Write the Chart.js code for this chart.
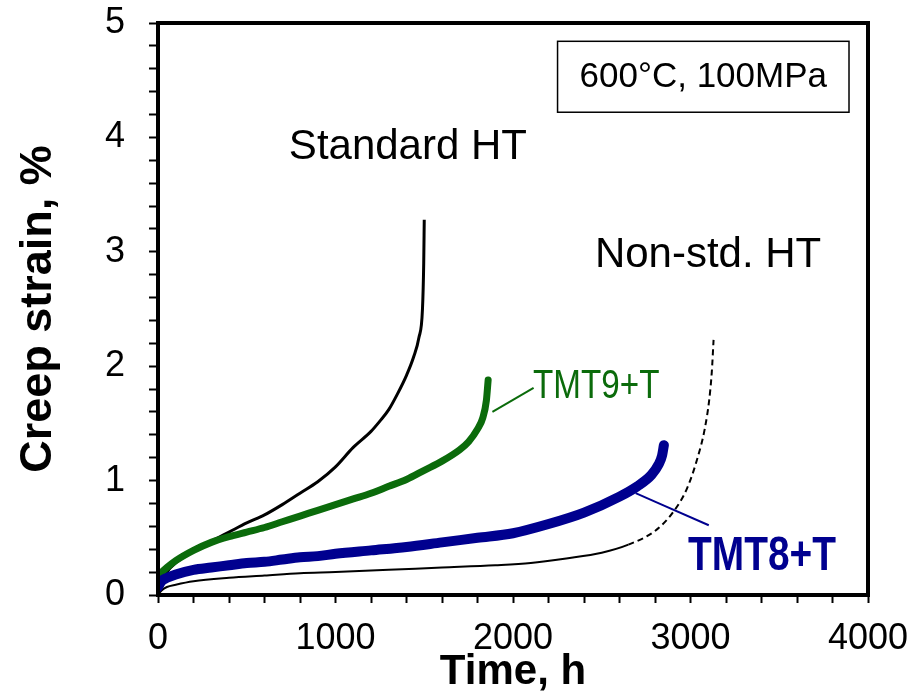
<!DOCTYPE html>
<html>
<head>
<meta charset="utf-8">
<script src="https://cdn.jsdelivr.net/npm/chart.js@4/dist/chart.umd.min.js"></script>
<style>
    body { margin: 0; background: #fff; }
    #wrap { width: 913px; height: 698px; }
</style>
</head>
<body>
<div id="wrap"><canvas id="creep" width="913" height="698"></canvas></div>
<script>
// creep curves, time in h, strain in %
const stdTime   = [0, 20, 50, 100, 200, 300, 400, 500, 600, 700, 800, 900, 1000, 1100, 1200, 1250, 1300, 1350, 1400, 1440, 1470, 1490, 1497, 1500];
const stdStrain = [0, 0.12, 0.2, 0.28, 0.38, 0.47, 0.55, 0.63, 0.7, 0.79, 0.89, 0.99, 1.12, 1.29, 1.43, 1.52, 1.62, 1.76, 1.92, 2.08, 2.25, 2.5, 2.9, 3.28];

const nonStdTime   = [0, 20, 50, 100, 200, 400, 600, 800, 1000, 1300, 1600, 1900, 2100, 2300, 2500, 2650, 2800, 2900, 2980, 3040, 3080, 3105, 3120, 3130];
const nonStdStrain = [0, 0.04, 0.07, 0.09, 0.12, 0.15, 0.17, 0.19, 0.2, 0.22, 0.24, 0.26, 0.28, 0.32, 0.37, 0.44, 0.56, 0.72, 0.93, 1.2, 1.45, 1.7, 1.95, 2.23];
const nonStdDashFrom = 2650;

const tmt9Time   = [0, 50, 100, 200, 300, 400, 500, 600, 700, 800, 900, 1000, 1100, 1200, 1300, 1400, 1500, 1600, 1700, 1750, 1800, 1830, 1850, 1860];
const tmt9Strain = [0.17, 0.24, 0.3, 0.39, 0.46, 0.51, 0.55, 0.59, 0.64, 0.69, 0.74, 0.79, 0.84, 0.89, 0.95, 1.01, 1.09, 1.17, 1.27, 1.34, 1.45, 1.55, 1.7, 1.88];

const tmt8Time   = [0, 20, 50, 100, 200, 300, 400, 500, 600, 700, 800, 900, 1000, 1200, 1400, 1600, 1800, 2000, 2200, 2400, 2600, 2700, 2780, 2820, 2840, 2850];
const tmt8Strain = [0.07, 0.12, 0.15, 0.18, 0.22, 0.24, 0.26, 0.28, 0.29, 0.31, 0.33, 0.34, 0.36, 0.39, 0.42, 0.46, 0.5, 0.54, 0.62, 0.72, 0.86, 0.95, 1.05, 1.14, 1.22, 1.31];

// leader lines from labels to curves
const tmt9Leader = [[1884, 1.60], [2116, 1.81]];
const tmt8Leader = [[2691, 0.89], [3103, 0.61]];

const xTicks = [0, 1000, 2000, 3000, 4000];
const yTicks = [0, 1, 2, 3, 4, 5];

function pts(xs, ys) {
    return xs.map((x, i) => ({x: x, y: ys[i]}));
}

// text labels placed in data units, squeeze < 1 fakes a narrow face
const notes = [
    {text: "Standard HT", x: 1408, y: 3.91, font: "42px 'Liberation Sans'", color: "#000", align: "center", squeeze: 1},
    {text: "Non-std. HT", x: 3099, y: 2.97, font: "42px 'Liberation Sans'", color: "#000", align: "center", squeeze: 1},
    {text: "TMT9+T", x: 2113, y: 1.82, font: "41px 'Liberation Sans'", color: "#0b6b0b", align: "left", squeeze: 0.81},
    {text: "TMT8+T", x: 2986, y: 0.33, font: "bold 48px 'Liberation Sans'", color: "#00008f", align: "left", squeeze: 0.81}
];
const condBox = {text: "600°C, 100MPa", x0: 2251, x1: 3893, y0: 4.22, y1: 4.84};

const framePlugin = {
    id: "frame",
    afterDraw(chart) {
        const ctx = chart.ctx;
        const a = chart.chartArea;
        const xs = chart.scales.x, ys = chart.scales.y;
        ctx.save();
        ctx.strokeStyle = "#000";
        ctx.lineWidth = 4;
        ctx.strokeRect(a.left, a.top, a.right - a.left, a.bottom - a.top);

        ctx.textBaseline = "middle";
        notes.forEach(n => {
            ctx.save();
            ctx.font = n.font;
            ctx.fillStyle = n.color;
            ctx.textAlign = n.align;
            ctx.translate(xs.getPixelForValue(n.x), ys.getPixelForValue(n.y));
            ctx.scale(n.squeeze, 1);
            ctx.fillText(n.text, 0, 0);
            ctx.restore();
        });

        const bx0 = xs.getPixelForValue(condBox.x0), bx1 = xs.getPixelForValue(condBox.x1);
        const by0 = ys.getPixelForValue(condBox.y1), by1 = ys.getPixelForValue(condBox.y0);
        ctx.lineWidth = 1.5;
        ctx.strokeRect(bx0, by0, bx1 - bx0, by1 - by0);
        ctx.font = "35px 'Liberation Sans'";
        ctx.fillStyle = "#000";
        ctx.textAlign = "center";
        ctx.fillText(condBox.text, (bx0 + bx1) / 2, (by0 + by1) / 2 + 1);
        ctx.restore();
    }
};

new Chart(document.getElementById("creep"), {
    type: "line",
    data: {
        datasets: [
            {
                label: "TMT8+T",
                data: pts(tmt8Time, tmt8Strain),
                borderColor: "#00008f",
                borderWidth: 10,
                borderCapStyle: "round",
                order: 1
            },
            {
                label: "TMT9+T",
                data: pts(tmt9Time, tmt9Strain),
                borderColor: "#0b6b0b",
                borderWidth: 7,
                borderCapStyle: "round",
                order: 2
            },
            {
                label: "Standard HT",
                data: pts(stdTime, stdStrain),
                borderColor: "#000",
                borderWidth: 3,
                order: 3
            },
            {
                label: "Non-std. HT",
                data: pts(nonStdTime, nonStdStrain),
                borderColor: "#000",
                borderWidth: 2,
                order: 4,
                segment: {
                    borderDash: c => c.p0.parsed.x >= nonStdDashFrom ? [6, 4] : undefined
                }
            },
            {
                label: "lead9",
                data: tmt9Leader.map(p => ({x: p[0], y: p[1]})),
                borderColor: "#0b6b0b",
                borderWidth: 2,
                tension: 0,
                order: 0
            },
            {
                label: "lead8",
                data: tmt8Leader.map(p => ({x: p[0], y: p[1]})),
                borderColor: "#00008f",
                borderWidth: 2,
                tension: 0,
                order: 0
            }
        ]
    },
    options: {
        responsive: false,
        animation: false,
        devicePixelRatio: 1,
        elements: {
            point: { radius: 0 },
            line: { cubicInterpolationMode: "monotone", fill: false }
        },
        layout: {
            padding: { left: 0, right: 45, top: 23, bottom: 0 }
        },
        plugins: {
            legend: { display: false },
            tooltip: { enabled: false }
        },
        scales: {
            x: {
                type: "linear",
                min: 0,
                max: 4000,
                afterFit: s => {
                    s.height = 103;
                    s.paddingLeft = 0;
                    s.paddingRight = 0;
                },
                border: { display: false },
                grid: {
                    drawOnChartArea: false,
                    drawTicks: true,
                    tickLength: 8,
                    tickWidth: 2,
                    tickColor: "#000"
                },
                ticks: {
                    stepSize: 200,
                    autoSkip: false,
                    maxRotation: 0,
                    padding: 14,
                    color: "#000",
                    font: { family: "'Liberation Sans'", size: 36 },
                    callback: v => xTicks.includes(v) ? String(v) : ""
                },
                title: {
                    display: true,
                    text: "Time, h",
                    color: "#000",
                    font: { family: "'Liberation Sans'", size: 42, weight: "bold" },
                    padding: { top: 0, bottom: 0 }
                }
            },
            y: {
                type: "linear",
                min: 0,
                max: 5,
                afterFit: s => {
                    s.width = 158;
                    s.paddingTop = 0;
                    s.paddingBottom = 0;
                },
                border: { display: false },
                grid: {
                    drawOnChartArea: false,
                    drawTicks: true,
                    tickLength: 9,
                    tickWidth: 2,
                    tickColor: "#000"
                },
                ticks: {
                    stepSize: 0.2,
                    autoSkip: false,
                    padding: 24,
                    color: "#000",
                    font: { family: "'Liberation Sans'", size: 36 },
                    callback: v => {
                        const r = Math.round(v);
                        return Math.abs(v - r) < 1e-6 && yTicks.includes(r) ? String(r) : "";
                    }
                },
                title: {
                    display: true,
                    text: "Creep strain, %",
                    color: "#000",
                    font: { family: "'Liberation Sans'", size: 45, weight: "bold" },
                    padding: { top: 12, bottom: 0 }
                }
            }
        }
    },
    plugins: [framePlugin]
});
</script>
</body>
</html>
